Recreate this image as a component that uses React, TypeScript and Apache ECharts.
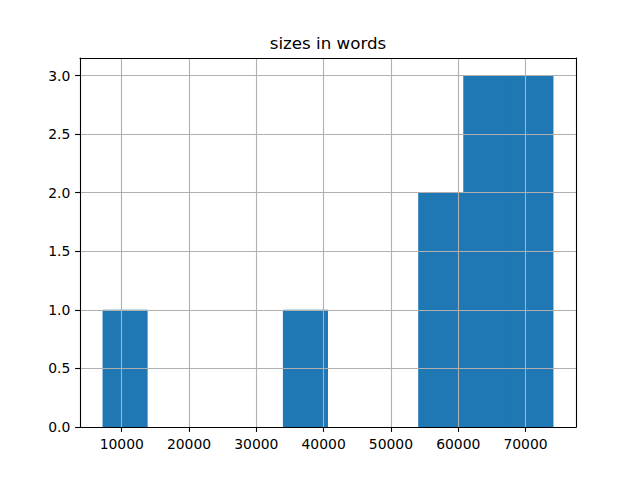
import React, { useEffect, useRef } from "react";
import * as echarts from "echarts";

const titleText = "sizes in words";
const binEdges = [7150, 13850, 20550, 27250, 33950, 40650, 47350, 54050, 60750, 67450, 74150];
const counts = [1, 0, 0, 0, 1, 0, 0, 2, 3, 3];
const xTicks = [10000, 20000, 30000, 40000, 50000, 60000, 70000];
const yTicks = [0, 0.5, 1.0, 1.5, 2.0, 2.5, 3.0];

export default function App() {
  const ref = useRef<HTMLDivElement>(null);
  useEffect(() => {
    if (!ref.current) return;
    const chart = echarts.init(ref.current, null, { renderer: "svg" });
    const font = "DejaVu Sans";
    const lineStyle = { color: "#000", width: 1.1 };
    const gridStyle = { color: "#b0b0b0", width: 1.1 };
    const data = counts.map((c, i) => [binEdges[i], binEdges[i + 1], c]);
    chart.setOption({
      animation: false,
      backgroundColor: "#fff",
      grid: { left: 80, right: 64, top: 58, bottom: 53, containLabel: false },
      graphic: [
        {
          type: "text",
          x: 328,
          y: 51,
          style: {
            text: titleText,
            align: "center",
            verticalAlign: "bottom",
            fontSize: 16.7,
            fontFamily: font,
            fill: "#000",
          },
        },
      ],
      xAxis: [
        {
          type: "value",
          min: 3800,
          max: 77500,
          position: "bottom",
          z: 5,
          axisLine: { show: true, onZero: false, lineStyle },
          axisTick: { show: true, inside: false, length: 4.9, customValues: xTicks, lineStyle },
          axisLabel: {
            customValues: xTicks,
            color: "#000",
            fontSize: 13.9,
            fontFamily: font,
            margin: 9.7,
            formatter: (v: number) => String(v),
          },
          splitLine: { show: true, lineStyle: gridStyle },
        },
        {
          type: "value",
          min: 3800,
          max: 77500,
          position: "top",
          z: 5,
          axisLine: { show: true, onZero: false, lineStyle },
          axisTick: { show: false },
          axisLabel: { show: false },
          splitLine: { show: false },
        },
      ],
      yAxis: [
        {
          type: "value",
          min: 0,
          max: 3.15,
          interval: 0.5,
          position: "left",
          z: 5,
          axisLine: { show: true, onZero: false, lineStyle },
          axisTick: { show: true, inside: false, length: 4.9, customValues: yTicks, lineStyle },
          axisLabel: {
            customValues: yTicks,
            color: "#000",
            fontSize: 13.9,
            fontFamily: font,
            margin: 9.7,
            formatter: (v: number) => v.toFixed(1),
          },
          splitLine: { show: true, lineStyle: gridStyle },
        },
        {
          type: "value",
          min: 0,
          max: 3.15,
          position: "right",
          z: 5,
          axisLine: { show: true, onZero: false, lineStyle },
          axisTick: { show: false },
          axisLabel: { show: false },
          splitLine: { show: false },
        },
      ],
      series: [
        {
          type: "custom",
          xAxisIndex: 0,
          yAxisIndex: 0,
          z: 2,
          data,
          encode: { x: [0, 1], y: 2 },
          renderItem: (params: any, api: any) => {
            const p0 = api.coord([api.value(0), 0]);
            const p1 = api.coord([api.value(1), api.value(2)]);
            const h = p0[1] - p1[1];
            if (h <= 0) return null;
            const i = params.dataIndex;
            const hasNeighbour = i < counts.length - 1 && counts[i + 1] > 0;
            return {
              type: "rect",
              shape: {
                x: p0[0],
                y: p1[1],
                width: p1[0] - p0[0] + (hasNeighbour ? 1 : 0),
                height: h,
              },
              style: { fill: "#1f77b4" },
            };
          },
        },
      ],
    });
    return () => chart.dispose();
  }, []);
  return (
    <div
      ref={ref}
      style={{ position: "absolute", left: 0, top: 0, width: 640, height: 480 }}
    />
  );
}
